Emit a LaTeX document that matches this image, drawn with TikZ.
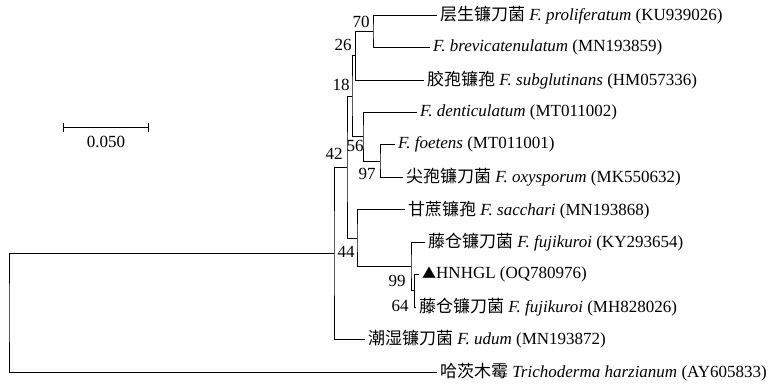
\documentclass[tikz,border=0pt]{standalone}
\usepackage{fontspec}
\setmainfont{Liberation Serif}
\newfontfamily\cjk{Noto Sans CJK SC}
\usepackage{tikz}

\begin{document}
\begin{tikzpicture}[x=1pt,y=-1pt,
  branch/.style={line width=0.7pt},
  taxon/.style={anchor=west,inner sep=3pt,font=\fontsize{17}{19}\selectfont},
  boot/.style={inner sep=0pt,font=\fontsize{17}{19}\selectfont}]
  \useasboundingbox (0,0) rectangle (769,386);
  % leaves
  \node[taxon] (proli) at (437,15) {{\cjk 层生镰刀菌} \textit{F. proliferatum} (KU939026)};
  \node[taxon] (brevi) at (430,47.45) {\textit{F. brevicatenulatum} (MN193859)};
  \node[taxon] (subgl) at (424,79.9) {{\cjk 胶孢镰孢} \textit{F. subglutinans} (HM057336)};
  \node[taxon] (denti) at (417,112.35) {\textit{F. denticulatum} (MT011002)};
  \node[taxon] (foete) at (395,144.8) {\textit{F. foetens} (MT011001)};
  \node[taxon] (oxysp) at (403,177.25) {{\cjk 尖孢镰刀菌} \textit{F. oxysporum} (MK550632)};
  \node[taxon] (sacch) at (405,209.7) {{\cjk 甘蔗镰孢} \textit{F. sacchari} (MN193868)};
  \node[taxon] (fujiA) at (425,242.15) {{\cjk 藤仓镰刀菌} \textit{F. fujikuroi} (KY293654)};
  \node[taxon] (hnhgl) at (419,274.6) {{\cjk\fontsize{14}{14}\selectfont ▲}HNHGL (OQ780976)};
  \node[taxon] (fujiB) at (416,307.05) {{\cjk 藤仓镰刀菌} \textit{F. fujikuroi} (MH828026)};
  \node[taxon] (udum) at (365,339.5) {{\cjk 潮湿镰刀菌} \textit{F. udum} (MN193872)};
  \node[taxon] (trich) at (437,371.95) {{\cjk 哈茨木霉} \textit{Trichoderma harzianum} (AY605833)};
  % internal nodes
  \coordinate (n70) at (373,31.2);
  \coordinate (n26) at (355.5,55.6);
  \coordinate (n97) at (380,161);
  \coordinate (n56) at (363,136.7);
  \coordinate (n18) at (352,96.1);
  \coordinate (n64) at (414.5,290.8);
  \coordinate (n99) at (411,266.5);
  \coordinate (n44) at (357,238.1);
  \coordinate (n42) at (347,167.1);
  \coordinate (nin) at (334,253.3);
  \coordinate (root) at (9,312.6);
  % branches
  \draw[branch] (proli.west) -| (n70) |- (brevi.west);
  \draw[branch] (n70) -| (n26) |- (subgl.west);
  \draw[branch] (foete.west) -| (n97) |- (oxysp.west);
  \draw[branch] (denti.west) -| (n56) |- (n97);
  \draw[branch] (n26) -| (n18) |- (n56);
  \draw[branch] (hnhgl.west) -| (n64) |- (fujiB.west);
  \draw[branch] (fujiA.west) -| (n99) |- (n64);
  \draw[branch] (sacch.west) -| (n44) |- (n99);
  \draw[branch] (n18) -| (n42) |- (n44);
  \draw[branch] (n42) -| (nin) |- (udum.west);
  \draw[branch] (nin) -| (root) |- (trich.west);
  % bootstrap values
  \node[boot] (b70) at (361,21.5) {70};
  \node[boot] (b26) at (343,45) {26};
  \node[boot] (b18) at (341,85) {18};
  \node[boot] (b56) at (355,146) {56};
  \node[boot] (b42) at (334,154) {42};
  \node[boot] (b97) at (367,173.5) {97};
  \node[boot] (b44) at (346,252) {44};
  \node[boot] (b99) at (397,281) {99};
  \node[boot] (b64) at (400,306) {64};
  % scale bar
  \coordinate (sbl) at (63,127);
  \coordinate (sbr) at (148,127);
  \draw[branch] (sbl) -- (sbr);
  \draw[branch] ([yshift=-4.5pt]sbl) -- ([yshift=4.5pt]sbl);
  \draw[branch] ([yshift=-4.5pt]sbr) -- ([yshift=4.5pt]sbr);
  \node[boot] (sblab) at (106,142) {0.050};
\end{tikzpicture}
\end{document}
